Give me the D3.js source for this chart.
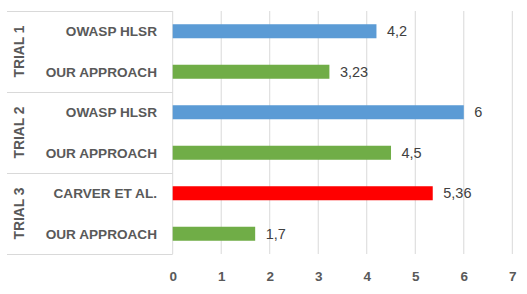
<!DOCTYPE html>
<html><head><meta charset="utf-8">
<script src="https://cdn.jsdelivr.net/npm/d3@7/dist/d3.min.js"></script>
<style>body{margin:0;background:#fff}svg{display:block}</style>
</head><body>
<svg id="c" width="527" height="294"></svg>
<script>
const groups = ["TRIAL 1", "TRIAL 2", "TRIAL 3"];
const categories = ["OWASP HLSR", "OUR APPROACH", "OWASP HLSR", "OUR APPROACH", "CARVER ET AL.", "OUR APPROACH"];
const groupOf = [0, 0, 1, 1, 2, 2];
const values = [4.2, 3.23, 6, 4.5, 5.36, 1.7];
const seriesColor = ["#5B9BD5", "#70AD47", "#5B9BD5", "#70AD47", "#FF0000", "#70AD47"];
const xTicks = [0, 1, 2, 3, 4, 5, 6, 7];

const svg = d3.select("#c");
const m = {left: 172.7, right: 512.3, top: 11, bottom: 254};
const x = d3.scaleLinear().domain([0, 7]).range([m.left, m.right]);
const idx = d3.range(categories.length);
const y = d3.scaleBand().domain(idx).range([m.top, m.bottom]).paddingInner(0.654).paddingOuter(0.327);
const font = "'Liberation Sans', Arial, sans-serif";

// gridlines
svg.append("g").selectAll("line").data(xTicks).join("line")
  .attr("x1", d => x(d)).attr("x2", d => x(d))
  .attr("y1", m.top).attr("y2", m.bottom)
  .attr("stroke", "#d9d9d9").attr("stroke-width", 1);

// group separators (multi-level category axis)
const step = y.step();
const sepY = [0, 2, 4, 6].map(i => m.top + i * step);
svg.append("g").selectAll("line").data(sepY).join("line")
  .attr("x1", 7).attr("x2", m.left).attr("y1", d => Math.round(d) + 0.5).attr("y2", d => Math.round(d) + 0.5)
  .attr("stroke", "#d9d9d9").attr("stroke-width", 1);

// bars
svg.append("g").selectAll("rect").data(idx).join("rect")
  .attr("x", x(0)).attr("y", i => y(i))
  .attr("width", i => x(values[i]) - x(0)).attr("height", y.bandwidth())
  .attr("fill", i => seriesColor[i]);

// value labels
const fmt = v => String(v).replace(".", ",");
svg.append("g").selectAll("text").data(idx).join("text")
  .attr("x", i => x(values[i]) + 10.5).attr("y", i => y(i) + y.bandwidth() / 2)
  .attr("dy", "0.36em")
  .attr("font-family", font).attr("font-size", 14.5).attr("fill", "#404040")
  .text(i => fmt(values[i]));

// category labels
svg.append("g").selectAll("text").data(idx).join("text")
  .attr("x", 157).attr("y", i => y(i) + y.bandwidth() / 2)
  .attr("dy", "0.36em").attr("text-anchor", "end")
  .attr("font-family", font).attr("font-weight", "bold").attr("font-size", 13.6).attr("fill", "#595959")
  .text(i => categories[i]);

// group labels
svg.append("g").selectAll("text").data(groups).join("text")
  .attr("transform", (d, g) => `translate(19,${m.top + (2 * g + 1) * step}) rotate(-90)`)
  .attr("dy", "0.36em").attr("text-anchor", "middle")
  .attr("font-family", font).attr("font-weight", "bold").attr("font-size", 13.8).attr("fill", "#595959")
  .text(d => d);

// x axis tick labels
const ax = svg.append("g").attr("transform", `translate(0,${m.bottom})`)
  .call(d3.axisBottom(x).tickValues(xTicks).tickSize(0).tickPadding(17).tickFormat(d3.format("d")));
ax.select(".domain").remove();
ax.selectAll("text").attr("font-family", font).attr("font-weight", "bold")
  .attr("font-size", 13.5).attr("fill", "#595959");
</script>
</body></html>
